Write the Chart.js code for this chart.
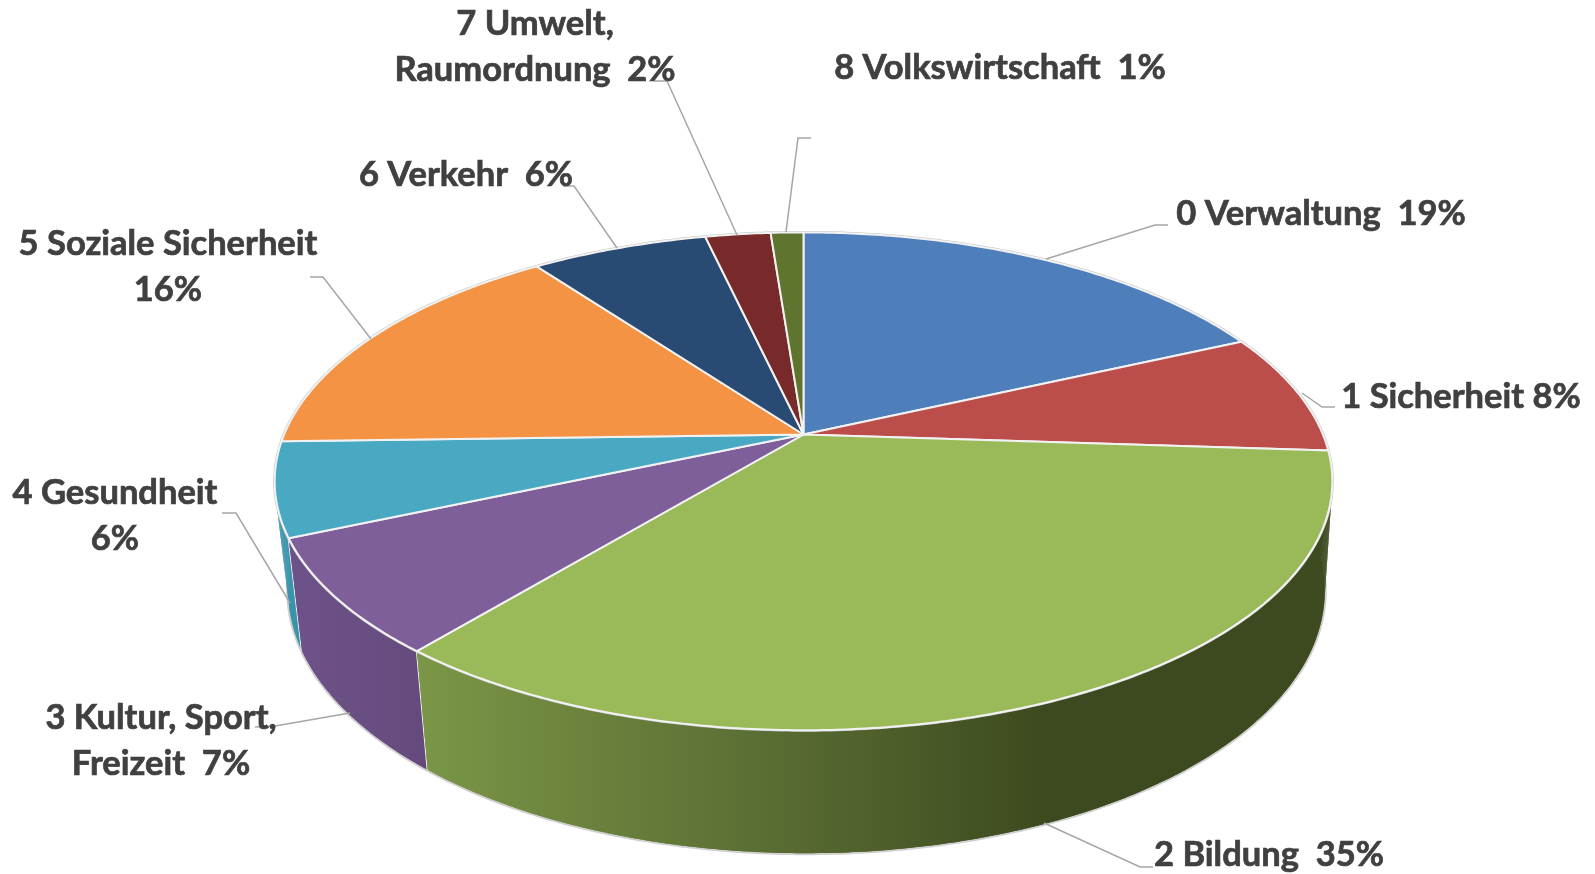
<!DOCTYPE html>
<html>
<head>
<meta charset="utf-8">
<title>Ausgaben nach Aufgabengebiet</title>
<script src="https://cdn.jsdelivr.net/npm/chart.js@4/dist/chart.umd.min.js"></script>
<style>
    html, body { margin: 0; padding: 0; background: #fff; }
    canvas { display: block; }
</style>
</head>
<body>
<canvas id="pieChart" width="1595" height="874"></canvas>
<script>
// slice sizes, the printed percentages are in the labels
const categories = ['0 Verwaltung', '1 Sicherheit', '2 Bildung', '3 Kultur, Sport, Freizeit', '4 Gesundheit',
    '5 Soziale Sicherheit', '6 Verkehr', '7 Umwelt, Raumordnung', '8 Volkswirtschaft'];
const sliceValues = [18.2, 7.9, 35.0, 7.5, 6.1, 15.4, 6.5, 2.4, 1.2];
const labelLines = [
    ['0 Verwaltung  19%'],
    ['1 Sicherheit 8%'],
    ['2 Bildung  35%'],
    ['3 Kultur, Sport,', 'Freizeit  7%'],
    ['4 Gesundheit', '6%'],
    ['5 Soziale Sicherheit', '16%'],
    ['6 Verkehr  6%'],
    ['7 Umwelt,', 'Raumordnung  2%'],
    ['8 Volkswirtschaft  1%']
];
const topColors = ['#4f7fba', '#bb4d4a', '#9aba59', '#7e5f9a', '#49a8c2', '#f39343', '#294a72', '#772a29', '#5f752f'];
const wallColors = ['#3d6494', '#943c3a', null, null, '#3c94ab', '#c2743a', '#1f3857', '#5a1f1f', '#475823'];

// text anchor (centre x, middle y of first line) and leader line of each label
const labelAnchors = [[1321, 214], [1461, 397], [1269, 855], [161, 718], [115, 493], [168, 244], [466, 175], [535, 24], [1000, 68]];
const leaders = [
    [[1168, 225], [1155, 225], [1046, 259]],
    [[1335, 407], [1322, 407], [1302, 393]],
    [[1153, 867], [1140, 867], [1044, 823]],
    [[255, 727], [275, 726], [350, 713]],
    [[222, 513], [236, 513], [290, 603]],
    [[310, 277], [323, 277], [371, 339]],
    [[563, 186], [574, 186], [617, 248]],
    [[654, 81], [667, 81], [737, 235]],
    [[811, 138], [798, 138], [786, 232]]
];

// perspective of the tilted disc
const stretch = 520 / 434;
const tilt = 240.4 / 520;
const persp = 0.188;
const wallScaleX = 0.98;
const wallScaleY = 1.054;
const wallShiftX = 3;
const wallShiftY = 107;
const lineHeight = 46;

function project(el, a, bottom) {
    const R = el.outerRadius * stretch;
    const w = 1 - persp * Math.sin(a);
    let dx = R * Math.cos(a) / w;
    let dy = R * tilt * Math.sin(a) / w;
    if (bottom) {
        dx = dx * wallScaleX + wallShiftX;
        dy = dy * wallScaleY + wallShiftY;
    }
    return [el.x + dx, el.y + dy];
}

function arcPoints(el, bottom) {
    const n = Math.max(2, Math.ceil((el.endAngle - el.startAngle) * 90));
    const pts = [];
    for (let i = 0; i <= n; i++) {
        pts.push(project(el, el.startAngle + (el.endAngle - el.startAngle) * i / n, bottom));
    }
    return pts;
}

function tracePath(ctx, pts, close) {
    ctx.beginPath();
    pts.forEach((p, i) => i ? ctx.lineTo(p[0], p[1]) : ctx.moveTo(p[0], p[1]));
    if (close) ctx.closePath();
}

function wallFill(ctx, i) {
    if (i === 2) {
        const g = ctx.createLinearGradient(418, 0, 1044, 0);
        g.addColorStop(0, '#7b9647');
        g.addColorStop(0.6, '#576a31');
        g.addColorStop(1, '#3d4a1f');
        return g;
    }
    if (i === 3) {
        const g = ctx.createLinearGradient(303, 0, 428, 0);
        g.addColorStop(0, '#6d5289');
        g.addColorStop(1, '#644a7c');
        return g;
    }
    return wallColors[i];
}

const tiltedPie = {
    id: 'tiltedPie',
    beforeDatasetDraw(chart) {
        const ctx = chart.ctx;
        const arcs = chart.getDatasetMeta(0).data;
        const order = arcs.map((el, i) => i).sort((a, b) =>
            Math.sin((arcs[a].startAngle + arcs[a].endAngle) / 2) - Math.sin((arcs[b].startAngle + arcs[b].endAngle) / 2));

        ctx.save();
        ctx.lineJoin = 'round';

        // outer walls, back to front
        order.forEach(i => {
            const el = arcs[i];
            const upper = arcPoints(el, false);
            const lower = arcPoints(el, true);
            // rim goes under the fill so only its outer half stays
            tracePath(ctx, lower, false);
            ctx.strokeStyle = '#cfcfcf';
            ctx.lineWidth = 4;
            ctx.stroke();
            ctx.fillStyle = wallFill(ctx, i);
            tracePath(ctx, upper.concat(lower.slice().reverse()), true);
            ctx.fill();
            // each strip on its own too, the sides bulge past the arcs
            for (let k = 0; k < upper.length - 1; k++) {
                tracePath(ctx, [upper[k], upper[k + 1], lower[k + 1], lower[k]], true);
                ctx.fill();
            }
            // white seam only between walls on the left side
            if (Math.cos(el.startAngle) < 0) {
                tracePath(ctx, [upper[0], lower[0]], false);
                ctx.strokeStyle = '#f4f4f4';
                ctx.lineWidth = 2;
                ctx.stroke();
            }
        });

        // top faces
        arcs.forEach(el => {
            tracePath(ctx, arcPoints(el, false), false);
            ctx.strokeStyle = '#c4c4c4';
            ctx.lineWidth = 3;
            ctx.stroke();
        });
        arcs.forEach(el => {
            const centre = [el.x, el.y];
            tracePath(ctx, [centre].concat(arcPoints(el, false)), true);
            ctx.fillStyle = el.options.backgroundColor;
            ctx.fill();
            ctx.strokeStyle = el.options.borderColor;
            ctx.lineWidth = el.options.borderWidth;
            ctx.stroke();
        });
        ctx.restore();
        return false;
    },
    afterDatasetsDraw(chart) {
        const ctx = chart.ctx;
        ctx.save();
        ctx.strokeStyle = '#a6a6a6';
        ctx.lineWidth = 1.5;
        leaders.forEach(pts => {
            tracePath(ctx, pts, false);
            ctx.stroke();
        });
        ctx.fillStyle = '#404040';
        ctx.strokeStyle = '#404040';
        ctx.lineWidth = 0.7;
        ctx.font = 'bold 34.5px Lato';
        ctx.textAlign = 'center';
        ctx.textBaseline = 'middle';
        labelLines.forEach((lines, i) => {
            lines.forEach((line, k) => {
                const y = labelAnchors[i][1] + k * lineHeight;
                ctx.fillText(line, labelAnchors[i][0], y);
                ctx.strokeText(line, labelAnchors[i][0], y);
            });
        });
        ctx.restore();
    }
};

new Chart(document.getElementById('pieChart'), {
    type: 'pie',
    data: {
        labels: categories,
        datasets: [{
            data: sliceValues,
            backgroundColor: topColors,
            borderColor: '#f2f2f2',
            borderWidth: 2
        }]
    },
    options: {
        responsive: false,
        animation: false,
        layout: { padding: { left: 12, bottom: 5 } },
        plugins: {
            legend: { display: false },
            tooltip: { enabled: false }
        }
    },
    plugins: [tiltedPie]
});
</script>
</body>
</html>
